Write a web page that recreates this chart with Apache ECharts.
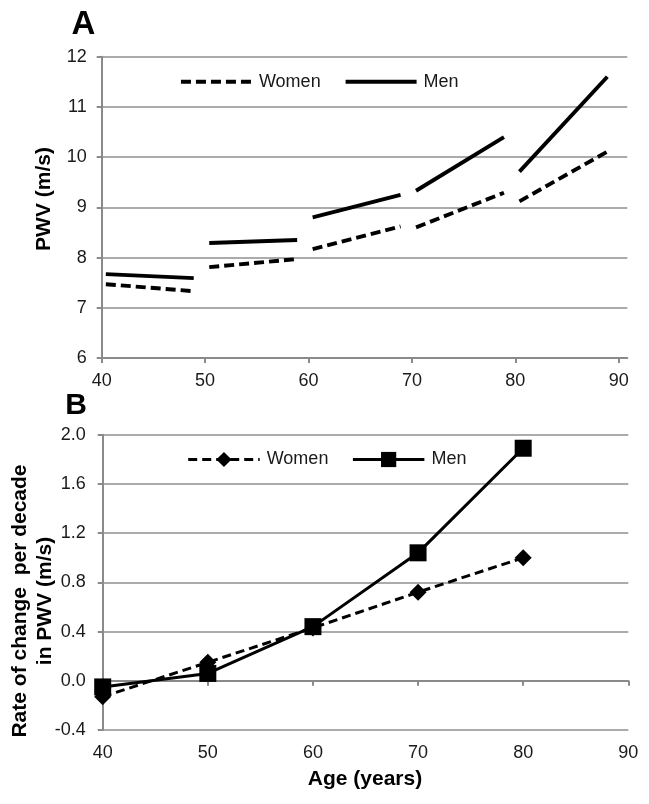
<!DOCTYPE html>
<html>
<head>
<meta charset="utf-8">
<script src="https://cdn.jsdelivr.net/npm/echarts@6/dist/echarts.min.js"></script>
<style>
html,body{margin:0;padding:0;background:#fff;}
#chart{width:649px;height:804px;}
</style>
</head>
<body>
<div id="chart"></div>
<script>
// ---- Panel A data: PWV by age, per-decade segments ----
const segmentAges = [[40.4, 48.9], [50.4, 58.9], [60.4, 68.9], [70.4, 78.9], [80.4, 88.9]];
const womenPWV = [[7.47, 7.33], [7.81, 7.97], [8.17, 8.62], [8.60, 9.29], [9.12, 10.11]];
const menPWV = [[7.67, 7.59], [8.29, 8.35], [8.80, 9.25], [9.33, 10.40], [9.71, 11.60]];

// ---- Panel B data: rate of change per decade ----
const decadeAges = [40, 50, 60, 70, 80];
const womenRate = [-0.13, 0.15, 0.43, 0.72, 1.00];
const menRate = [-0.05, 0.06, 0.44, 1.04, 1.89];

// ---- tick labels ----
const xTicks = [40, 50, 60, 70, 80, 90];
const yTicksA = [6, 7, 8, 9, 10, 11, 12];
const yTicksB = [-0.4, 0.0, 0.4, 0.8, 1.2, 1.6, 2.0];

const FONT = "'Liberation Sans', Arial, sans-serif";
const AXIS_COLOR = '#8a8a8a';
const GRID_COLOR = '#ababab';
const labelStyle = { fontFamily: FONT, fontSize: 18, color: '#1a1a1a' };

const series = [];
segmentAges.forEach((ages, i) => {
  series.push({
    name: 'Women', type: 'line', xAxisIndex: 0, yAxisIndex: 0,
    symbol: 'none', silent: true,
    lineStyle: { color: '#000', width: 3.9, type: [10, 5], cap: 'butt' },
    itemStyle: { color: '#000' },
    data: ages.map((a, j) => [a, womenPWV[i][j]])
  });
  series.push({
    name: 'Men', type: 'line', xAxisIndex: 0, yAxisIndex: 0,
    symbol: 'none', silent: true,
    lineStyle: { color: '#000', width: 3.9, type: 'solid', cap: 'butt' },
    itemStyle: { color: '#000' },
    data: ages.map((a, j) => [a, menPWV[i][j]])
  });
});
series.push({
  name: 'Women, rate', type: 'line', xAxisIndex: 1, yAxisIndex: 1,
  symbol: 'diamond', symbolSize: 17, silent: true,
  lineStyle: { color: '#000', width: 3, type: [9, 5] },
  itemStyle: { color: '#000' },
  data: decadeAges.map((a, j) => [a, womenRate[j]])
});
series.push({
  name: 'Men, rate', type: 'line', xAxisIndex: 1, yAxisIndex: 1,
  symbol: 'rect', symbolSize: 17, silent: true,
  lineStyle: { color: '#000', width: 3, type: 'solid' },
  itemStyle: { color: '#000' },
  data: decadeAges.map((a, j) => [a, menRate[j]])
});

function xAxisCfg(gridIndex, max, margin) {
  return {
    type: 'value', gridIndex, min: 40, max, interval: 10,
    axisLine: { show: true, lineStyle: { color: AXIS_COLOR, width: 2 } },
    axisTick: { show: true, length: 5, lineStyle: { color: AXIS_COLOR, width: 2 }, customValues: xTicks },
    axisLabel: Object.assign({ margin, customValues: xTicks }, labelStyle),
    splitLine: { show: false }
  };
}

const option = {
  animation: false,
  backgroundColor: '#ffffff',
  grid: [
    { left: 101.7, right: 21.7, top: 56.7, bottom: 446, containLabel: false },
    { left: 102.7, right: 20.7, top: 434.7, bottom: 74, containLabel: false }
  ],
  xAxis: [
    xAxisCfg(0, 90.83, 14),
    xAxisCfg(1, 90, 14)
  ],
  yAxis: [
    {
      type: 'value', gridIndex: 0, min: yTicksA[0], max: yTicksA[yTicksA.length - 1], interval: 1,
      axisLine: { show: true, lineStyle: { color: AXIS_COLOR, width: 2 } },
      axisTick: { show: true, length: 5, lineStyle: { color: AXIS_COLOR, width: 2 } },
      axisLabel: Object.assign({ margin: 15 }, labelStyle),
      splitLine: { show: true, lineStyle: { color: GRID_COLOR, width: 2 } }
    },
    {
      type: 'value', gridIndex: 1, min: yTicksB[0], max: yTicksB[yTicksB.length - 1], interval: 0.4,
      axisLine: { show: true, lineStyle: { color: AXIS_COLOR, width: 2 } },
      axisTick: { show: true, length: 5, lineStyle: { color: AXIS_COLOR, width: 2 } },
      axisLabel: Object.assign({
        margin: 17,
        formatter: v => (Math.abs(v) < 1e-9 ? '0.0' : v.toFixed(1))
      }, labelStyle),
      splitLine: { show: true, lineStyle: { color: GRID_COLOR, width: 2 } }
    }
  ],
  legend: [
    {
      data: ['Women', 'Men'], left: 179, top: 72.7, orient: 'horizontal', padding: 0,
      itemWidth: 71, itemHeight: 18, itemGap: 23, selectedMode: false,
      itemStyle: { opacity: 0 },
      lineStyle: { width: 3.9 },
      textStyle: { fontFamily: FONT, fontSize: 18, color: '#1a1a1a', padding: [0, 0, 0, 2] }
    },
    {
      data: ['Women, rate', 'Men, rate'], left: 186.7, top: 450.5, orient: 'horizontal', padding: 0,
      itemWidth: 71.5, itemHeight: 19, itemGap: 23, selectedMode: false,
      lineStyle: { width: 3 },
      formatter: n => n.split(',')[0],
      textStyle: { fontFamily: FONT, fontSize: 18, color: '#1a1a1a', padding: [0, 0, 0, 2] }
    }
  ],
  graphic: [
    { type: 'text', x: 83.5, y: 24.5, style: { text: 'A', font: 'bold 33px ' + FONT, fill: '#000', textAlign: 'center', textVerticalAlign: 'middle' } },
    { type: 'text', x: 76, y: 406, style: { text: 'B', font: 'bold 30px ' + FONT, fill: '#000', textAlign: 'center', textVerticalAlign: 'middle' } },
    { type: 'text', x: 44.5, y: 199, rotation: Math.PI / 2, style: { text: 'PWV (m/s)', font: 'bold 21px ' + FONT, fill: '#000', textAlign: 'center', textVerticalAlign: 'middle' } },
    { type: 'text', x: 33.2, y: 601, rotation: Math.PI / 2, style: { text: 'Rate of change  per decade\nin PWV (m/s)', font: 'bold 21px ' + FONT, lineHeight: 25, fill: '#000', textAlign: 'center', textVerticalAlign: 'middle' } },
    { type: 'text', x: 365, y: 779.5, style: { text: 'Age (years)', font: 'bold 21px ' + FONT, fill: '#000', textAlign: 'center', textVerticalAlign: 'middle' } }
  ],
  series
};

const chart = echarts.init(document.getElementById('chart'), null, { renderer: 'canvas' });
chart.setOption(option);
</script>
</body>
</html>
